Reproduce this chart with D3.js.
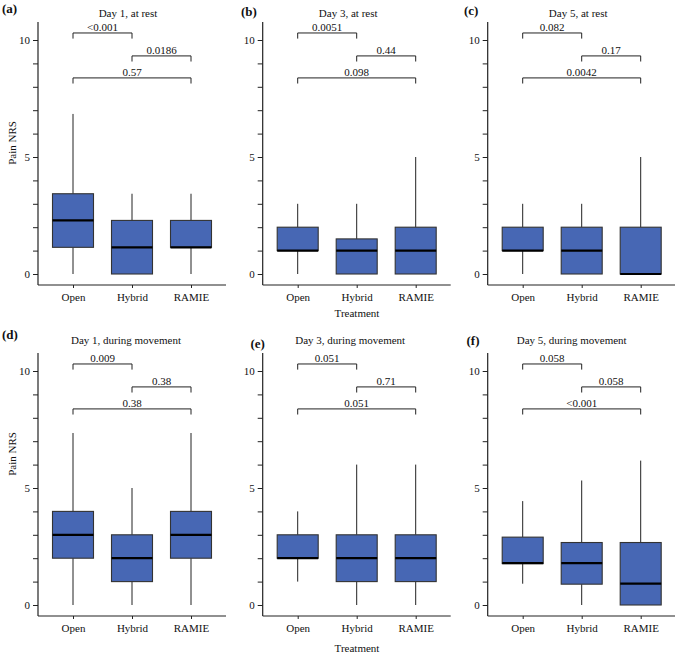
<!DOCTYPE html>
<html><head><meta charset="utf-8">
<script src="https://cdn.jsdelivr.net/npm/d3@7"></script>
<style>
body{margin:0;background:#fff;}
text{font-family:"Liberation Serif","Times New Roman",serif;fill:#111;}
</style></head>
<body><svg id="chart" width="675" height="655"></svg>
<script>
const categories = ["Open", "Hybrid", "RAMIE"];
const panelLetters = ["(a)", "(b)", "(c)", "(d)", "(e)", "(f)"];
const panelTitles = ["Day 1, at rest", "Day 3, at rest", "Day 5, at rest",
  "Day 1, during movement", "Day 3, during movement", "Day 5, during movement"];
const whiskerLow  = [[0,0,0],[0,0,0],[0,0,0],[0,0,0],[1,0,0],[0.91,0,0]];
const q1          = [[1.14,0,1.14],[1,0,0],[1,0,0],[2,1,2],[2,1,1],[1.77,0.89,0]];
const median      = [[2.29,1.14,1.14],[1,1,1],[1,1,0],[3,2,3],[2,2,2],[1.79,1.79,0.91]];
const q3          = [[3.43,2.29,2.29],[2,1.5,2],[2,2,2],[4,3,4],[3,3,3],[2.9,2.67,2.67]];
const whiskerHigh = [[6.84,3.43,3.43],[3,3,5],[3,3,5],[7.35,5,7.35],[4,6,6],[4.44,5.32,6.17]];
const pOpenHybrid  = ["<0.001","0.0051","0.082","0.009","0.051","0.058"];
const pHybridRamie = ["0.0186","0.44","0.17","0.38","0.71","0.058"];
const pOpenRamie   = ["0.57","0.098","0.0042","0.38","0.051","<0.001"];
const yTicks = [0,1,2,3,4,5,6,7,8,9,10];
const yTickLabels = [0,5,10];
const yLabel = "Pain NRS";
const xLabel = "Treatment";

const svg = d3.select("#chart");
const colX = [38, 262.7, 487.7];
const rowY = [0, 331];
const letterPos = [[2,12.5],[241,16],[464,15],[2,339],[250.5,348],[466.5,345]];
const titleDx = [90, 85.5, 90.5, 88, 87.5, 84];
const fill = "#4767b4";

const x = d3.scalePoint().domain(categories).range([35, 153]);
const y = d3.scaleLinear().domain([0, 10]).range([274, 40]);
const boxW = 41;

for (let p = 0; p < 6; p++) {
  const col = p % 3, row = Math.floor(p / 3);
  const g = svg.append("g").attr("transform", `translate(${colX[col]},${rowY[row]})`);
  const ry = row === 0 ? 16.5 : 13;

  // axes
  const yAxis = d3.axisLeft(y).tickValues(yTicks).tickSize(5).tickPadding(3)
    .tickFormat(d => yTickLabels.includes(d) ? d : "");
  const ga = g.append("g").call(yAxis);
  ga.select(".domain").remove();
  ga.selectAll("line").attr("stroke", "#222");
  ga.selectAll("text").style("font-size", "11px").attr("fill", "#222")
    .style("font-family", "Liberation Serif, serif");
  g.append("line").attr("x1", 0).attr("x2", 0).attr("y1", y(10.77)).attr("y2", y(-0.47))
    .attr("stroke", "#222").attr("stroke-width", 1.2);

  const xAxis = d3.axisBottom(x).tickSize(3).tickPadding(5);
  const gx = g.append("g").attr("transform", `translate(0,${y(-0.47)})`).call(xAxis);
  gx.select(".domain").remove();
  gx.selectAll("line").attr("stroke", "#222");
  gx.selectAll("text").style("font-size", "11px").attr("fill", "#222")
    .style("font-family", "Liberation Serif, serif");
  g.append("line").attr("x1", 0).attr("x2", 188).attr("y1", y(-0.47)).attr("y2", y(-0.47))
    .attr("stroke", "#222").attr("stroke-width", 1.2);

  // boxes
  categories.forEach((c, i) => {
    const cx = x(c);
    g.append("line").attr("x1", cx).attr("x2", cx)
      .attr("y1", y(whiskerHigh[p][i])).attr("y2", y(q3[p][i]))
      .attr("stroke", "#222").attr("stroke-width", 1);
    g.append("line").attr("x1", cx).attr("x2", cx)
      .attr("y1", y(q1[p][i])).attr("y2", y(whiskerLow[p][i]))
      .attr("stroke", "#222").attr("stroke-width", 1);
    g.append("rect").attr("x", cx - boxW / 2).attr("width", boxW)
      .attr("y", y(q3[p][i])).attr("height", y(q1[p][i]) - y(q3[p][i]))
      .attr("fill", fill).attr("stroke", "#333").attr("stroke-width", 1.1);
    g.append("line").attr("x1", cx - boxW / 2).attr("x2", cx + boxW / 2)
      .attr("y1", y(median[p][i])).attr("y2", y(median[p][i]))
      .attr("stroke", "#000").attr("stroke-width", 2.2);
  });

  // brackets
  const brackets = [
    [categories[0], categories[1], 10.3, pOpenHybrid[p]],
    [categories[1], categories[2], 9.32, pHybridRamie[p]],
    [categories[0], categories[2], 8.38, pOpenRamie[p]]
  ];
  brackets.forEach(([a, b, v, lab]) => {
    const x1 = x(a), x2 = x(b), yy = y(v), yt = y(v - 0.24);
    g.append("path").attr("d", `M${x1},${yt}V${yy}H${x2}V${yt}`)
      .attr("fill", "none").attr("stroke", "#222").attr("stroke-width", 1);
    g.append("text").attr("x", (x1 + x2) / 2).attr("y", yy - 2)
      .attr("text-anchor", "middle").style("font-size", "11px").text(lab);
  });

  // title
  g.append("text").attr("x", titleDx[p]).attr("y", ry).attr("text-anchor", "middle")
    .style("font-size", "11px").text(panelTitles[p]);

  // letter
  svg.append("text").attr("x", letterPos[p][0]).attr("y", letterPos[p][1])
    .style("font-size", "13px").style("font-weight", "bold").text(panelLetters[p]);
}

// y labels
[[143], [454]].forEach(([cy]) => {
  svg.append("text").attr("transform", `translate(16,${cy}) rotate(-90)`)
    .attr("text-anchor", "middle").style("font-size", "11px").text(yLabel);
});
// x labels
[317, 652].forEach(by => {
  svg.append("text").attr("x", 357).attr("y", by).attr("text-anchor", "middle")
    .style("font-size", "11px").text(xLabel);
});
</script></body></html>
